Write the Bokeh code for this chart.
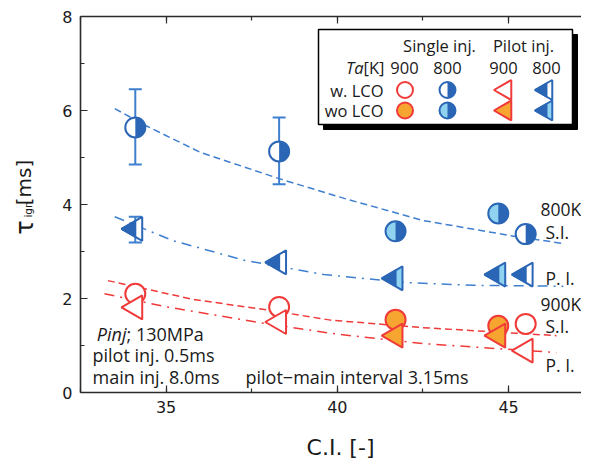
import math
from bokeh.plotting import figure
from bokeh.models import (ColumnDataSource, Label, LinearAxis, SingleIntervalTicker,
                          Whisker, TeeHead, Range1d, CustomJSTickFormatter)
from bokeh.transform import dodge
from bokeh.embed import file_html
from bokeh.resources import INLINE

# ---------------- data ----------------
ci_w = [34.1, 38.3, 45.5]          # C.I. of "w. LCO" points
ci_wo = [41.7, 44.7]               # C.I. of "wo LCO" points

tau_si800_w = [5.64, 5.13, 3.37]
tau_si800_wo = [3.43, 3.81]
tau_pi800_w = [3.48, 2.77, 2.51]
tau_pi800_wo = [2.43, 2.51]
tau_si900_w = [2.10, 1.82, 1.46]
tau_si900_wo = [1.55, 1.42]
tau_pi900_w = [1.81, 1.50, 0.89]
tau_pi900_wo = [1.21, 1.21]

err_ci = [34.1, 38.3, 34.1]
err_lower = [4.85, 4.43, 3.19]
err_upper = [6.45, 5.85, 3.74]

# trend curves
fit_si800_ci = [33.5, 34.4, 36.0, 38.3, 40.2, 42.5, 45.2, 46.6]
fit_si800_tau = [6.04, 5.68, 5.11, 4.55, 4.13, 3.66, 3.32, 3.17]
fit_pi800_ci = [33.5, 35.2, 37.3, 39.6, 42.0, 44.0, 46.6]
fit_pi800_tau = [3.74, 3.23, 2.81, 2.51, 2.34, 2.28, 2.26]
fit_si900_ci = [33.3, 35.8, 38.1, 39.8, 42.5, 46.4]
fit_si900_tau = [2.38, 1.98, 1.74, 1.54, 1.38, 1.21]
fit_pi900_ci = [33.2, 35.1, 37.7, 40.0, 42.5, 46.4]
fit_pi900_tau = [2.10, 1.81, 1.49, 1.24, 1.04, 0.85]

x_axis_min, x_axis_max = 32.5, 47.13
y_axis_min, y_axis_max = 0, 8
x_ticks_interval = 5
y_ticks_interval = 2

# ---------------- styling ----------------
DARK = "#2a66b5"
LIGHT = "#8fd3f0"
LINE_BLUE = "#3f7fcf"
RED = "#f03a3a"
ORANGE = "#f7a531"
AX = "#2b2b2b"
TXT = "#1a1a1a"
FONT = "Open Sans"

W, H = 581, 459
OX, OY = 8, 0            # where the canvas lands in the picture
# plot box of the axes, in picture pixels
FL, FT, FW, FH = 88, 16, 501, 376
PX_PER_X = FW / (x_axis_max - x_axis_min)
PX_PER_Y = FH / (y_axis_max - y_axis_min)


def dx(px):
    return x_axis_min + (px - FL) / PX_PER_X


def dy(py):
    return y_axis_min + (FT + FH - py) / PX_PER_Y


p = figure(width=W, height=H,
           x_range=Range1d(dx(OX), dx(OX + W)), y_range=Range1d(dy(OY + H), dy(OY)),
           output_backend="svg", toolbar_location=None, min_border=0)
p.outline_line_color = None
p.grid.visible = False
p.background_fill_color = "white"
p.border_fill_color = "white"

bottom = p.below[0]
left = p.left[0]
bottom.ticker = SingleIntervalTicker(interval=x_ticks_interval, num_minor_ticks=2)
left.ticker = SingleIntervalTicker(interval=y_ticks_interval, num_minor_ticks=2)
bottom.fixed_location = y_axis_min
bottom.bounds = (x_axis_min, x_axis_max)
left.fixed_location = x_axis_min
left.bounds = (y_axis_min, y_axis_max)

top = LinearAxis(ticker=SingleIntervalTicker(interval=x_ticks_interval, num_minor_ticks=2),
                 formatter=CustomJSTickFormatter(code="return ''"),
                 fixed_location=y_axis_max, bounds=(x_axis_min, x_axis_max))
p.add_layout(top, "above")

for ax in (bottom, left, top):
    ax.axis_line_color = AX
    ax.axis_line_width = 1.6
    ax.major_tick_line_color = AX
    ax.minor_tick_line_color = AX
    ax.major_tick_line_width = 1.2
    ax.minor_tick_line_width = 1.2
    ax.major_tick_in = 7
    ax.major_tick_out = 0
    ax.minor_tick_in = 4
    ax.minor_tick_out = 0
    ax.major_label_text_font = "DejaVu Sans"
    ax.major_label_text_font_size = "16px"
    ax.major_label_text_color = TXT
    ax.major_label_standoff = 8
    ax.axis_label = None

# ---------------- legend box (drawn first) ----------------
p.quad(left=[dx(331)], right=[dx(585)], top=[dy(34)], bottom=[dy(129)],
       fill_color="black", line_color="black")
p.quad(left=[dx(326)], right=[dx(580)], top=[dy(29)], bottom=[dy(124)],
       fill_color="white", line_color="black", line_width=1.5)

# ---------------- trend curves ----------------
p.line(fit_si800_ci, fit_si800_tau, line_color=LINE_BLUE, line_width=1.5, line_dash="7 4")
p.line(fit_pi800_ci, fit_pi800_tau, line_color=LINE_BLUE, line_width=1.5, line_dash="10 6 2 6")
p.line(fit_si900_ci, fit_si900_tau, line_color=RED, line_width=1.5, line_dash="7 4")
p.line(fit_pi900_ci, fit_pi900_tau, line_color=RED, line_width=1.5, line_dash="10 6 2 6")

# ---------------- error bars ----------------
err_src = ColumnDataSource(dict(base=err_ci, lower=err_lower, upper=err_upper))
p.add_layout(Whisker(source=err_src, base="base", lower="lower", upper="upper",
                     dimension="height", line_color=LINE_BLUE, line_width=2,
                     upper_head=TeeHead(size=13, line_color=LINE_BLUE, line_width=2),
                     lower_head=TeeHead(size=13, line_color=LINE_BLUE, line_width=2)))


def half_circle(xs, ys, left_fill, size):
    src = ColumnDataSource(dict(x=xs, y=ys))
    p.scatter("x", "y", source=src, marker="circle", size=size,
              fill_color=left_fill, line_color=None)
    p.wedge("x", "y", source=src, radius=size / 2, radius_units="screen",
            start_angle=-math.pi / 2, end_angle=math.pi / 2,
            fill_color=DARK, line_color=None)
    p.scatter("x", "y", source=src, marker="circle", size=size,
              fill_color=None, line_color=DARK, line_width=2)


def half_tri(xs, ys, right_fill, size, frac=0.68):
    src = ColumnDataSource(dict(x=xs, y=ys))
    p.scatter("x", "y", source=src, marker="triangle", angle=math.pi / 2, size=size,
              fill_color=right_fill, line_color=DARK, line_width=2)
    off = (2.0 / 3.0) * (size / 2 * math.sqrt(3)) * (1 - frac) / PX_PER_X
    p.scatter(dodge("x", -off, range=p.x_range), "y", source=src, marker="triangle",
              angle=math.pi / 2, size=size * frac, fill_color=DARK,
              line_color=DARK, line_width=1.5)


def red_circle(xs, ys, fill, size):
    p.scatter(xs, ys, marker="circle", size=size, fill_color=fill,
              line_color=RED, line_width=2)


def red_tri(xs, ys, fill, size):
    p.scatter(xs, ys, marker="triangle", angle=math.pi / 2, size=size,
              fill_color=fill, line_color=RED, line_width=2)


CS, TS = 20, 24
half_circle(ci_w, tau_si800_w, "white", CS)
half_circle(ci_wo, tau_si800_wo, LIGHT, CS)
half_tri(ci_w, tau_pi800_w, "white", TS)
half_tri(ci_wo, tau_pi800_wo, LIGHT, TS)
red_circle(ci_w, tau_si900_w, "white", CS)
red_circle(ci_wo, tau_si900_wo, ORANGE, CS)
red_tri(ci_w, tau_pi900_w, "white", TS)
red_tri(ci_wo, tau_pi900_wo, ORANGE, TS)

# ---------------- legend markers ----------------
LCS, LTS = 16, 20
for py, left_fill, orange in ((89.5, "white", "white"), (110, LIGHT, ORANGE)):
    red_circle([dx(412.5)], [dy(py)], orange, LCS)
    half_circle([dx(455)], [dy(py)], left_fill, LCS)
    red_tri([dx(513)], [dy(py)], orange, LTS)
    half_tri([dx(554)], [dy(py)], left_fill, LTS)


def label(px, py, text, size="16.5px", align="left", style="normal", font=FONT, angle=0.0):
    p.add_layout(Label(x=dx(px), y=dy(py), text=text, text_font=font,
                       text_font_size=size, text_align=align, text_baseline="middle",
                       text_font_style=style, text_color=TXT, angle=angle))


# legend texts
label(447, 45, "Single inj.", align="center")
label(531, 45, "Pilot inj.", align="center")
label(371, 67, "Ta", align="right", style="italic")
label(371, 67, "[K]")
label(412, 67, "900", align="center")
label(455, 67, "800", align="center")
label(511, 67, "900", align="center")
label(554, 67, "800", align="center")
label(391, 90, "w. LCO", align="right")
label(391, 110, "wo LCO", align="right")

# curve labels
ANN = "17.5px"
label(548, 208, "800K", size=ANN)
label(553, 231, "S.I.", size=ANN)
label(553, 277, "P. I.", size=ANN)
label(548, 303, "900K", size=ANN)
label(553, 325, "S.I.", size=ANN)
label(553, 364, "P. I.", size=ANN)

# conditions
COND = "18px"
label(134, 333, "Pinj", size=COND, align="right", style="italic")
label(134, 333, "; 130MPa", size=COND)
label(100, 354, "pilot inj. 0.5ms", size=COND)
label(100, 376, "main inj. 8.0ms", size=COND)
label(253, 376, "pilot\u2212main interval 3.15ms", size=COND)

# axis titles
label(348, 447, "C.I. [-]", size="22px", align="center", font="DejaVu Sans")
label(32, 227, "\u03c4", size="24px", align="center", font="DejaVu Sans", angle=math.pi / 2)
label(35, 209, "ign", size="10.5px", align="center", font="DejaVu Sans", angle=math.pi / 2)
label(31, 182, "[ms]", size="20px", align="center", font="DejaVu Sans", angle=math.pi / 2)

open("out.html", "w").write(file_html(p, INLINE))
